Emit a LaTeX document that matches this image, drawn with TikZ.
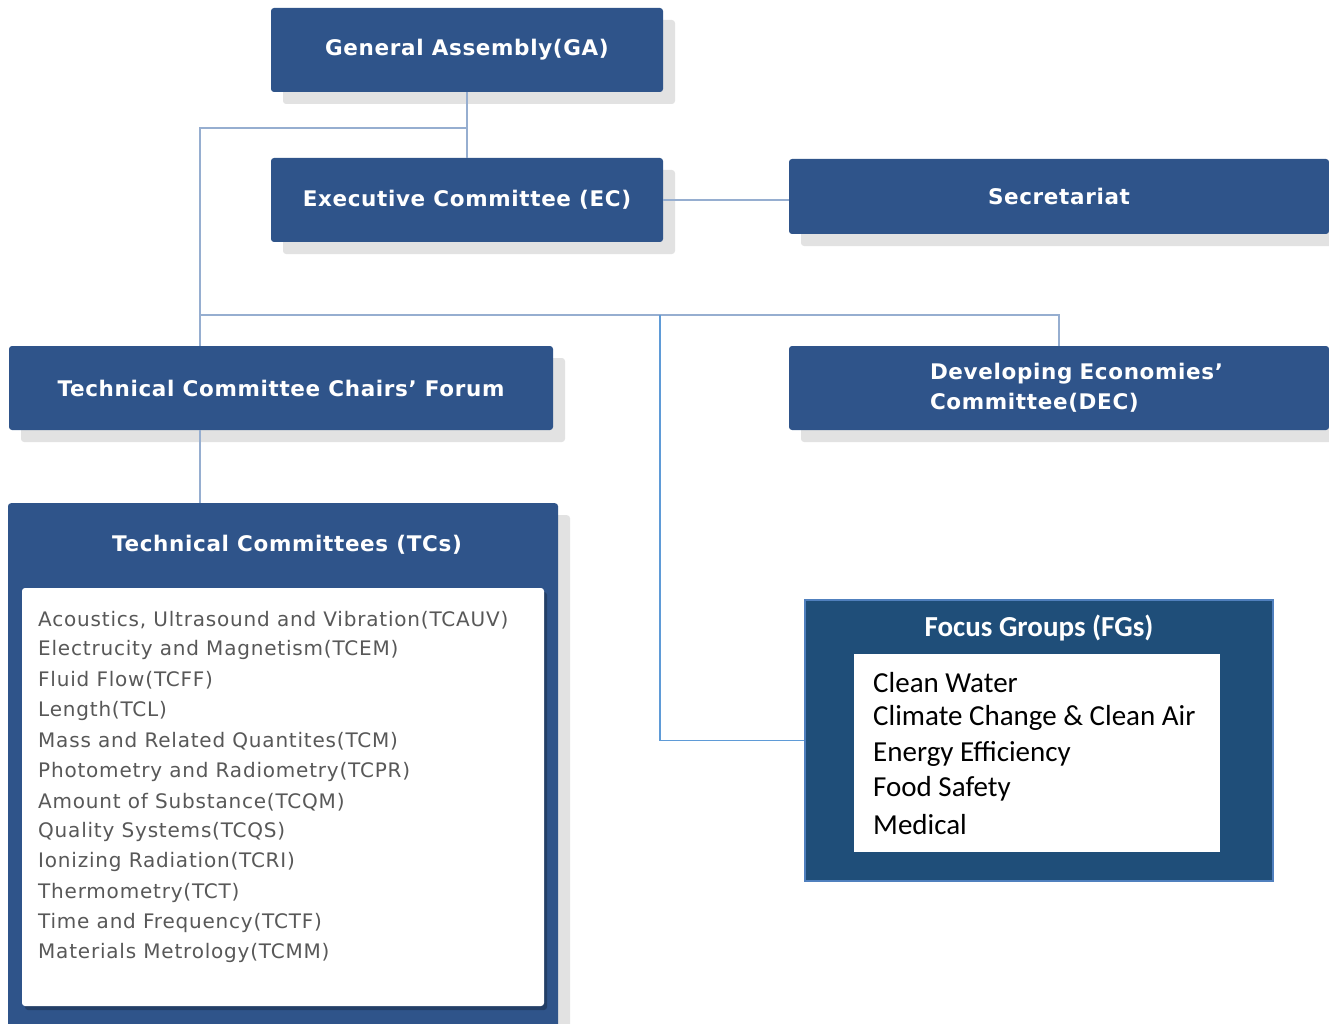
\documentclass[tikz,border=0pt]{standalone}
\usepackage{fontspec}
\setmainfont{DejaVu Sans}
\newfontfamily\boxfont[LetterSpace=3]{DejaVu Sans}
\newfontfamily\itemfont[LetterSpace=4]{DejaVu Sans}
\newfontfamily\fgfont{Carlito}
\usetikzlibrary{shadows}
\usetikzlibrary{calc}

\definecolor{boxblue}{RGB}{47,84,138}
\definecolor{fgblue}{RGB}{31,78,121}
\definecolor{fgedge}{RGB}{80,128,190}
\definecolor{linkblue}{RGB}{150,174,208}
\definecolor{fglink}{RGB}{95,155,215}
\definecolor{shade}{RGB}{226,226,226}
\definecolor{itemgray}{RGB}{88,88,88}

\tikzset{
	orgbox/.style={fill=boxblue, rounded corners=3pt, text=white, minimum height=84,
		font=\boxfont\bfseries\fontsize{21.5}{30}\selectfont,
		general shadow={fill=shade, shadow xshift=12pt, shadow yshift=-12pt}},
	link/.style={draw=linkblue, line width=1.6pt},
	tcitem/.style={anchor=west, inner sep=0pt, text=itemgray, font=\itemfont\fontsize{20}{22}\selectfont},
	fgitem/.style={anchor=west, inner sep=0pt, font=\fgfont\fontsize{29}{32}\selectfont},
}

\begin{document}
\begin{tikzpicture}[x=1pt,y=-1pt]
	\useasboundingbox (0,0) rectangle (1329,1024);
	% top of the tree
	\node[orgbox, minimum width=392] (ga) at (467,50) {General Assembly(GA)};
	\node[orgbox, minimum width=392] (ec) at (467,200) {Executive Committee (EC)};
	\node[orgbox, minimum width=540, minimum height=75] (sec) at (1059,196.5) {Secretariat};
	\node[orgbox, minimum width=544] (tccf) at (281,388) {Technical Committee Chairs’ Forum};
	\node[orgbox, minimum width=540, text width=330, align=left] (dec) at (1059,388)
		{\hspace*{36pt}Developing Economies’\\\hspace*{36pt}Committee(DEC)};
	% technical committees
	\node[orgbox, minimum width=550, minimum height=540, anchor=north] (tcs) at (283,503) {};
	\node[text=white, font=\boxfont\bfseries\fontsize{21.5}{24}\selectfont] (tctitle) at (287,545) {Technical Committees (TCs)};
	\node[fill=white, rounded corners=3pt, minimum width=522, minimum height=418,
		general shadow={fill=boxblue!75!black, shadow xshift=3pt, shadow yshift=-4pt}] (tclist) at (283,797) {};
	\foreach \i/\val in {0/{Acoustics, Ultrasound and Vibration(TCAUV)},1/Electrucity and Magnetism(TCEM),
		2/Fluid Flow(TCFF),3/Length(TCL),4/Mass and Related Quantites(TCM),5/Photometry and Radiometry(TCPR),
		6/Amount of Substance(TCQM),7/Quality Systems(TCQS),8/Ionizing Radiation(TCRI),9/Thermometry(TCT),
		10/Time and Frequency(TCTF),11/Materials Metrology(TCMM)}
		\node[tcitem] (tc\i) at (38,{620+30.3*\i}) {\val};
	% focus groups
	\node[fill=fgblue, draw=fgedge, line width=1.5pt, minimum width=468, minimum height=281] (fgs) at (1039,740.5) {};
	\node[text=white, font=\fgfont\bfseries\fontsize{29}{32}\selectfont] (fgtitle) at (1039,628) {Focus Groups (FGs)};
	\node[fill=white, minimum width=366, minimum height=198] (fglist) at (1037,753) {};
	\foreach \i/\val in {0/Clean Water,1/Climate Change \& Clean Air,2/Energy Efficiency,3/Food Safety,4/Medical}
		\node[fgitem] (fg\i) at (873,{683+35.3*\i}) {\val};
	% connectors
	\coordinate (top) at (200,128);
	\coordinate (bus) at (200,315);
	\coordinate (drop) at (660,315);
	\draw[link] (ga.south) -- (ec.north);
	\draw[link] (top -| ga.south) -- (top) -- (top |- tccf.north);
	\draw[link] (bus) -- (bus -| dec.north) -- (dec.north);
	\draw[link] (ec.east) -- (ec.east -| sec.west);
	\draw[link] (tccf.south -| top) -- (tcs.north -| top);
	\draw[draw=fglink, line width=1.4pt] (drop) |- (fgs.west);
\end{tikzpicture}
\end{document}
